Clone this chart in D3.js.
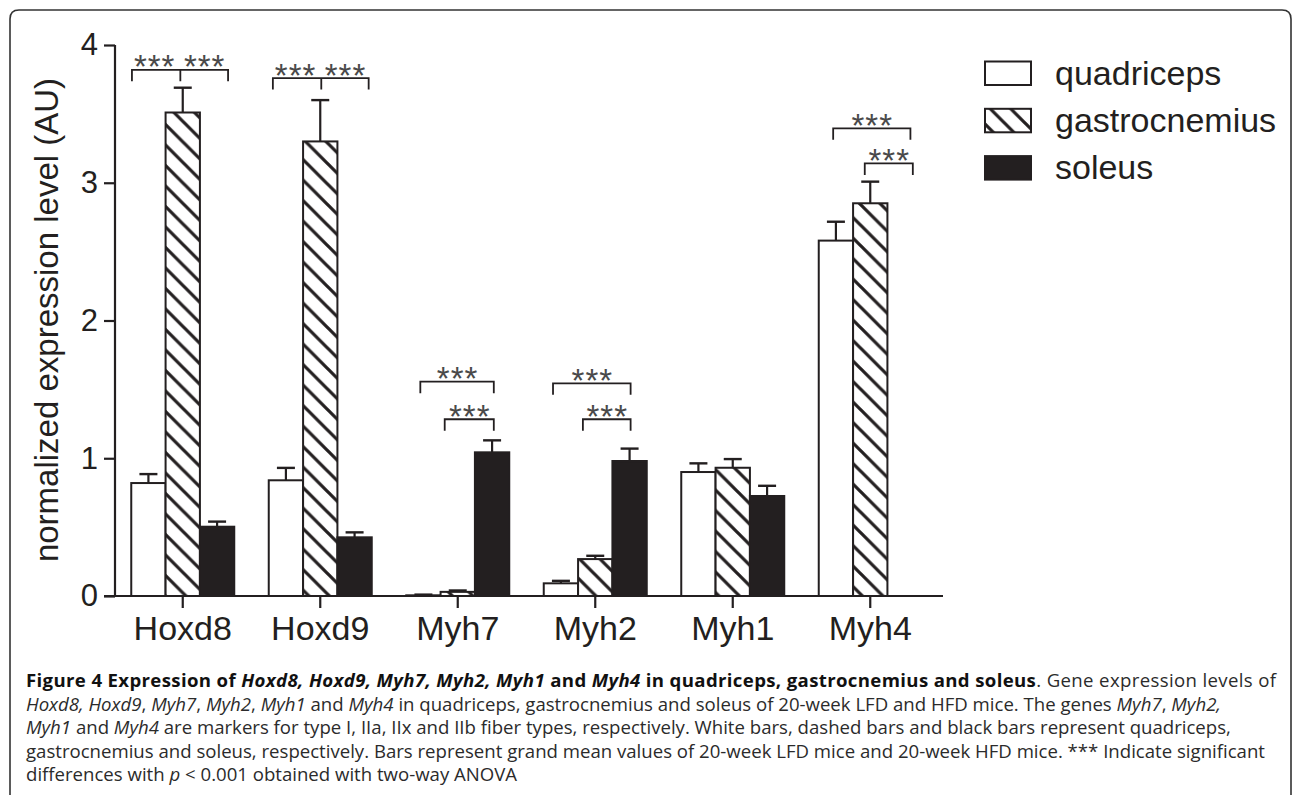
<!DOCTYPE html>
<html>
<head>
<meta charset="utf-8">
<script src="https://cdn.jsdelivr.net/npm/d3@7"></script>
<style>
  html, body { margin: 0; padding: 0; background: #fff; }
  svg { display: block; }
</style>
</head>
<body>
<svg id="chart" width="1293" height="795"></svg>
<script>
// ---------- data ----------
const categories = ["Hoxd8", "Hoxd9", "Myh7", "Myh2", "Myh1", "Myh4"];
const seriesNames = ["quadriceps", "gastrocnemius", "soleus"];
const quadriceps      = [0.82, 0.84, 0.005, 0.092, 0.90, 2.58];
const quadricepsErr   = [0.885, 0.93, 0.01, 0.11, 0.963, 2.717];
const gastrocnemius   = [3.51, 3.30, 0.03, 0.268, 0.931, 2.851];
const gastrocnemiusErr= [3.69, 3.60, 0.04, 0.292, 0.994, 3.008];
const soleus          = [0.503, 0.426, 1.043, 0.98, 0.726, null];
const soleusErr       = [0.54, 0.462, 1.13, 1.07, 0.80, null];
const yTicks = [0, 1, 2, 3, 4];
const yTitle = "normalized expression level (AU)";
const starLabel = "***";
// significance brackets: category, endpoints (in bar units within the group), middle tick, bracket value
const bracketCats  = ["Hoxd8", "Hoxd9", "Myh7", "Myh7", "Myh2", "Myh2", "Myh4", "Myh4"];
const bracketFrom  = [0.02, 0.12, 0.41, 1.12, 0.27, 1.14, 0.42, 1.34];
const bracketTo    = [2.82, 2.91, 2.55, 2.55, 2.53, 2.53, 2.67, 2.74];
const bracketMid   = [1.43, 1.53, null, null, null, null, null, null];
const bracketValue = [3.82, 3.76, 1.556, 1.283, 1.544, 1.283, 3.395, 3.14];

const captionLines = [
  [["Figure 4 Expression of ", "b"], ["Hoxd8, Hoxd9, Myh7, Myh2, Myh1", "bi"], [" and ", "b"], ["Myh4", "bi"], [" in quadriceps, gastrocnemius and soleus", "b"], [". Gene expression levels of", ""]],
  [["Hoxd8, Hoxd9", "i"], [", ", ""], ["Myh7", "i"], [", ", ""], ["Myh2", "i"], [", ", ""], ["Myh1", "i"], [" and ", ""], ["Myh4", "i"], [" in quadriceps, gastrocnemius and soleus of 20-week LFD and HFD mice. The genes ", ""], ["Myh7", "i"], [", ", ""], ["Myh2,", "i"]],
  [["Myh1", "i"], [" and ", ""], ["Myh4", "i"], [" are markers for type I, IIa, IIx and IIb fiber types, respectively. White bars, dashed bars and black bars represent quadriceps,", ""]],
  [["gastrocnemius and soleus, respectively. Bars represent grand mean values of 20-week LFD mice and 20-week HFD mice. *** Indicate significant", ""]],
  [["differences with ", ""], ["p", "i"], [" < 0.001 obtained with two-way ANOVA", ""]]
];

// ---------- drawing ----------
const ink = "#231f20";
const svg = d3.select("#chart");
const defs = svg.append("defs");
const hs = 20.5;
const pat = defs.append("pattern")
  .attr("id", "hatch").attr("patternUnits", "userSpaceOnUse")
  .attr("width", hs).attr("height", hs);
pat.append("rect").attr("width", hs).attr("height", hs).attr("fill", "#fff");
pat.append("path")
  .attr("d", `M-${hs/2},${hs/2} L${hs/2},${hs*1.5} M0,0 L${hs},${hs} M${hs/2},-${hs/2} L${hs*1.5},${hs/2}`)
  .attr("stroke", ink).attr("stroke-width", 3.2);

// frame
svg.append("path")
  .attr("d", "M10,810 L10,19 Q10,10 19,10 L1282,10 Q1291,10 1291,19 L1291,810")
  .attr("fill", "none").attr("stroke", "#333").attr("stroke-width", 1.6);

const x = d3.scaleBand().domain(categories).range([114, 939]).padding(0);
const inner = d3.scaleBand().domain(seriesNames).range([-51.5, 51.5]).padding(0);
const bw = inner.bandwidth();
const y = d3.scaleLinear().domain([0, 4]).range([596, 45]);

const fills = { quadriceps: "#fff", gastrocnemius: "url(#hatch)", soleus: ink };
const vals = { quadriceps, gastrocnemius, soleus };
const errs = { quadriceps: quadricepsErr, gastrocnemius: gastrocnemiusErr, soleus: soleusErr };

const rows = [];
categories.forEach((c, i) => {
  seriesNames.forEach(s => {
    if (vals[s][i] != null) rows.push({ c, s, v: vals[s][i], e: errs[s][i] });
  });
});

const barsG = svg.append("g");
rows.forEach(d => {
  const cx = x(d.c) + x.bandwidth() / 2 + inner(d.s) + bw / 2;
  barsG.append("line").attr("x1", cx).attr("x2", cx).attr("y1", y(d.v)).attr("y2", y(d.e))
    .attr("stroke", ink).attr("stroke-width", 2.2);
  barsG.append("line").attr("x1", cx - 9).attr("x2", cx + 9).attr("y1", y(d.e)).attr("y2", y(d.e))
    .attr("stroke", ink).attr("stroke-width", 2.4);
});
rows.forEach(d => {
  const bx = x(d.c) + x.bandwidth() / 2 + inner(d.s);
  barsG.append("rect")
    .attr("x", bx).attr("y", y(d.v)).attr("width", bw).attr("height", Math.max(0.5, y(0) - y(d.v)))
    .attr("fill", fills[d.s]).attr("stroke", ink).attr("stroke-width", 2);
});

// y axis
const yAxis = d3.axisLeft(y).tickValues(yTicks).tickFormat(d3.format("d")).tickSize(11).tickPadding(6);
const yg = svg.append("g").attr("transform", "translate(115,0)").call(yAxis);
yg.select(".domain").attr("stroke", ink).attr("stroke-width", 2.2).attr("d", `M0,${y(4)}V${y(0)}`);
yg.selectAll(".tick line").attr("stroke", ink).attr("stroke-width", 2.2);
yg.selectAll(".tick text").attr("font-family", "Liberation Sans, Arial, sans-serif")
  .attr("font-size", 31).attr("fill", ink);

// x axis
const xAxis = d3.axisBottom(x).tickSize(12).tickPadding(10);
const xg = svg.append("g").attr("transform", `translate(0,${y(0)})`).call(xAxis);
xg.select(".domain").attr("stroke", ink).attr("stroke-width", 2.2).attr("d", "M104,0H943");
xg.selectAll(".tick line").attr("stroke", ink).attr("stroke-width", 2.2);
xg.selectAll(".tick text").attr("font-family", "Liberation Sans, Arial, sans-serif")
  .attr("font-size", 34).attr("fill", ink).attr("dy", 0).attr("y", 44);

// y title
svg.append("text")
  .attr("transform", "translate(58,320) rotate(-90)")
  .attr("text-anchor", "middle")
  .attr("font-family", "Liberation Sans, Arial, sans-serif").attr("font-size", 33)
  .attr("fill", ink).text(yTitle);

// significance brackets
const annG = svg.append("g");
const drop = 11.5;
function star(cx, by) {
  annG.append("text").attr("x", cx + 0.5).attr("y", by + 8.5)
    .attr("text-anchor", "middle")
    .attr("font-family", "Liberation Sans, Arial, sans-serif").attr("font-size", 33)
    .attr("letter-spacing", 1).attr("fill", "#4a4a4a").text(starLabel);
}
bracketCats.forEach((c, i) => {
  const g0 = x(c) + x.bandwidth() / 2 - 51.5;
  const x1 = g0 + bracketFrom[i] * bw, x2 = g0 + bracketTo[i] * bw;
  const by = y(bracketValue[i]);
  let d = `M${x1},${by + drop}V${by}H${x2}V${by + drop}`;
  if (bracketMid[i] != null) {
    const xm = g0 + bracketMid[i] * bw;
    d += `M${xm},${by}V${by + drop}`;
    star((x1 + xm) / 2 - 2, by);
    star((xm + x2) / 2, by);
  } else {
    star((x1 + x2) / 2, by);
  }
  annG.append("path").attr("d", d).attr("fill", "none").attr("stroke", ink).attr("stroke-width", 1.8);
});

// legend
const lg = svg.append("g");
seriesNames.forEach((s, i) => {
  const ly = 61.5 + i * 47.3;
  lg.append("rect").attr("x", 985).attr("y", ly).attr("width", 46).attr("height", 23.5)
    .attr("fill", fills[s]).attr("stroke", ink).attr("stroke-width", 2);
  lg.append("text").attr("x", 1055).attr("y", ly + 23)
    .attr("font-family", "Liberation Sans, Arial, sans-serif").attr("font-size", 34)
    .attr("fill", ink).text(s);
});

// caption
const cap = svg.append("g");
captionLines.forEach((line, i) => {
  const t = cap.append("text").attr("x", 26).attr("y", 687 + i * 23.5)
    .attr("font-family", "Open Sans, Noto Sans, sans-serif").attr("font-size", 18.6)
    .attr("fill", "#2b2b2b");
  if (i === 0) t.attr("textLength", 1250).attr("lengthAdjust", "spacing");
  line.forEach(([txt, st]) => {
    t.append("tspan")
      .attr("font-weight", st.includes("b") ? "bold" : "normal")
      .attr("font-style", st.includes("i") ? "italic" : "normal")
      .attr("fill", st.includes("b") ? "#111" : "#2b2b2b")
      .text(txt);
  });
});
</script>
</body>
</html>
